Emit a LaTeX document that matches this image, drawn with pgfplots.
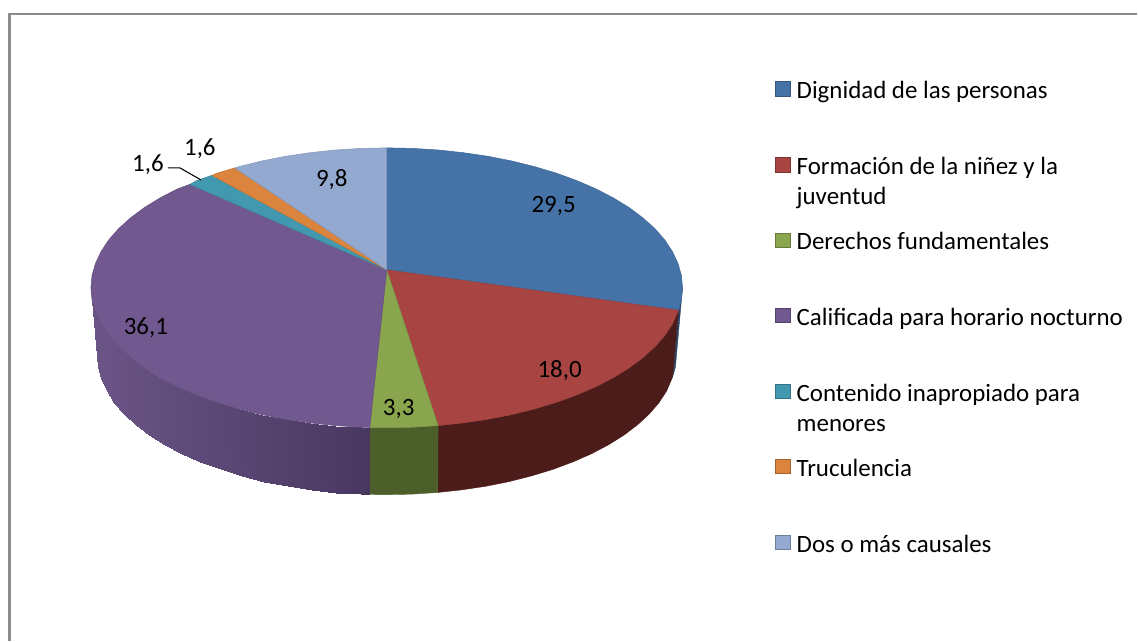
\documentclass[border=0pt]{standalone}
\usepackage{fontspec}
\setmainfont{Carlito}
\usepackage{pgfplots}
\pgfplotsset{compat=1.18}
\definecolor{cblue}{HTML}{4572A7}
\definecolor{cred}{HTML}{A84442}
\definecolor{cgreen}{HTML}{89A54E}
\definecolor{cpurple}{HTML}{71588F}
\definecolor{cteal}{HTML}{4198AF}
\definecolor{corange}{HTML}{DB843D}
\definecolor{clight}{HTML}{93A9CF}
\definecolor{wblue}{HTML}{2A4566}
\definecolor{wred}{HTML}{4B1C19}
\definecolor{wgreen}{HTML}{4C5F2B}
\definecolor{framegray}{HTML}{8C8C8C}
\tikzset{lab/.style={font=\fontsize{18.7}{20}\selectfont,inner sep=0pt,text=black}}
\pgfplotsset{
  slice/.style={fill=#1,draw=#1!90!black,line width=0.4pt,line join=round},
  wall/.style={fill=#1,draw=#1,line width=0.3pt,line join=round},
  key/.style={only marks,mark=square*,mark size=5.3pt,mark options={fill=#1,draw=#1!75!black,line width=0.6pt}},
}
\begin{document}
\begin{tikzpicture}
\begin{axis}[
    scale only axis,
    width=853.5pt,
    height=480.75pt,
    xmin=0,xmax=1138,
    ymin=0,ymax=641,
    y dir=reverse,
    hide axis,
    clip=false,
    point meta min=0,
    point meta max=1,
]
% keeps the page as large as the axis
\path (axis cs:0,0) rectangle (axis cs:1138,641);
% frame
\addplot[framegray,line width=1.2pt] coordinates {(8.5,13.8) (1138,13.8)};
\addplot[framegray,line width=1.9pt] coordinates {(9.5,641) (9.5,13.2)};

% walls
\addplot[wall=wblue] coordinates {(683,288) (681.9,300.2) (679,310.5) (673,377.5) (675.9,367.2) (677,355)} --cycle;
\addplot[wall=wred] coordinates {
  (679,310.5) (672.9,324.2) (665.2,335.9) (655.3,347.2) (643.3,358) (629.5,368.3) (613.7,378)
  (596.3,387) (577.3,395.2) (556.8,402.7) (535,409.2) (512.1,414.9) (488.2,419.6) (463.6,423.2) (438.4,425.9)
  (438,492.8) (462,490.2) (486.2,486.6) (509.6,481.9) (532,476.2) (553.3,469.7) (573.4,462.2) (592.1,454)
  (609.1,445) (624.6,435.3) (638.1,425) (649.8,414.2) (659.5,402.9) (667.1,391.2) (673,377.5)} --cycle;
\addplot[wall=wgreen] coordinates {
  (438.4,425.9) (412.8,427.5) (387,428) (370,427.8)
  (370,494.8) (387,495) (412.3,494.5) (438,492.8)} --cycle;
\addplot[surf,shader=interp,mesh/rows=2,
  colormap={pwall}{rgb255=(107,85,135) rgb255=(72,56,96)},
  point meta=explicit] table[meta=m] {
x y m
91 288 0
92.1 300.2 0.01
95.5 312.3 0.02
101.1 324.2 0.04
108.8 335.9 0.06
118.7 347.2 0.1
130.7 358 0.14
144.5 368.3 0.19
160.3 378 0.25
177.7 387 0.31
196.7 395.2 0.38
217.2 402.7 0.45
239 409.2 0.53
261.9 414.9 0.61
285.8 419.6 0.7
310.4 423.2 0.79
335.6 425.9 0.88
361.2 427.5 0.97
370 427.8 1
97 355 0
98.1 367.2 0.01
101.4 379.3 0.02
106.9 391.2 0.04
114.5 402.9 0.06
124.2 414.2 0.1
135.9 425 0.14
149.4 435.3 0.19
164.9 445 0.25
181.9 454 0.31
200.6 462.2 0.38
220.7 469.7 0.45
242 476.2 0.53
264.4 481.9 0.61
287.8 486.6 0.7
312 490.2 0.79
336.7 492.9 0.88
361.7 494.5 0.97
370 494.8 1
};

% top faces
\addplot[slice=cblue] coordinates {
  (387,270) (387,148) (412.8,148.5) (438.4,150.1) (463.6,152.8) (488.2,156.4) (512.1,161.1) (535,166.8)
  (556.8,173.3) (577.3,180.8) (596.3,189) (613.7,198) (629.5,207.7) (643.3,218) (655.3,228.8) (665.2,240.1)
  (672.9,251.8) (678.5,263.7) (681.9,275.8) (683,288) (681.9,300.2) (679,310.5)} --cycle;
\addplot[slice=cred] coordinates {
  (387,270) (679,310.5) (672.9,324.2) (665.2,335.9) (655.3,347.2) (643.3,358) (629.5,368.3) (613.7,378)
  (596.3,387) (577.3,395.2) (556.8,402.7) (535,409.2) (512.1,414.9) (488.2,419.6) (463.6,423.2) (438.4,425.9)} --cycle;
\addplot[slice=cgreen] coordinates {
  (387,270) (438.4,425.9) (412.8,427.5) (387,428) (370,427.8)} --cycle;
\addplot[slice=cpurple] coordinates {
  (387,270) (370,427.8) (361.2,427.5) (335.6,425.9) (310.4,423.2) (285.8,419.6) (261.9,414.9) (239,409.2)
  (217.2,402.7) (196.7,395.2) (177.7,387) (160.3,378) (144.5,368.3) (130.7,358) (118.7,347.2) (108.8,335.9)
  (101.1,324.2) (95.5,312.3) (92.1,300.2) (91,288) (92.1,275.8) (95.5,263.7) (101.1,251.8) (108.8,240.1)
  (118.7,228.8) (130.7,218) (144.5,207.7) (160.3,198) (177.7,189) (190,184.5)} --cycle;
\addplot[slice=cteal] coordinates {(387,270) (190,184.5) (196.7,180.8) (212,175.5)} --cycle;
\addplot[slice=corange] coordinates {(387,270) (212,175.5) (217.2,173.3) (235,168)} --cycle;
\addplot[slice=clight] coordinates {
  (387,270) (235,168) (239,166.8) (261.9,161.1) (285.8,156.4) (310.4,152.8) (335.6,150.1) (361.2,148.5) (387,148)} --cycle;

% leader line
\addplot[black,line width=0.8pt] coordinates {(168,168) (180,168) (201,180)};

% value labels
\node[lab] at (axis cs:554,206) {29,5};
\node[lab] at (axis cs:560,371) {18,0};
\node[lab] at (axis cs:399,409) {3,3};
\node[lab] at (axis cs:146,328) {36,1};
\node[lab] at (axis cs:332,180) {9,8};
\node[lab] at (axis cs:200,149) {1,6};
\node[lab] at (axis cs:148,165) {1,6};

% legend
\addplot[key=cblue] coordinates {(783.5,89)};
\addplot[key=cred] coordinates {(783.5,165)};
\addplot[key=cgreen] coordinates {(783.5,240.5)};
\addplot[key=cpurple] coordinates {(783.5,316)};
\addplot[key=cteal] coordinates {(783.5,392)};
\addplot[key=corange] coordinates {(783.5,467)};
\addplot[key=clight] coordinates {(783.5,543)};
\node[lab,anchor=base west] at (axis cs:797,98.5) {Dignidad de las personas};
\node[lab,anchor=base west] at (axis cs:797,174.5) {Formación de la niñez y la};
\node[lab,anchor=base west] at (axis cs:797,204.5) {juventud};
\node[lab,anchor=base west] at (axis cs:797,249.5) {Derechos fundamentales};
\node[lab,anchor=base west] at (axis cs:797,325.5) {Calificada para horario nocturno};
\node[lab,anchor=base west] at (axis cs:797,401.5) {Contenido inapropiado para};
\node[lab,anchor=base west] at (axis cs:797,431.5) {menores};
\node[lab,anchor=base west] at (axis cs:797,476.5) {Truculencia};
\node[lab,anchor=base west] at (axis cs:797,552.5) {Dos o más causales};
\end{axis}
\end{tikzpicture}
\end{document}
